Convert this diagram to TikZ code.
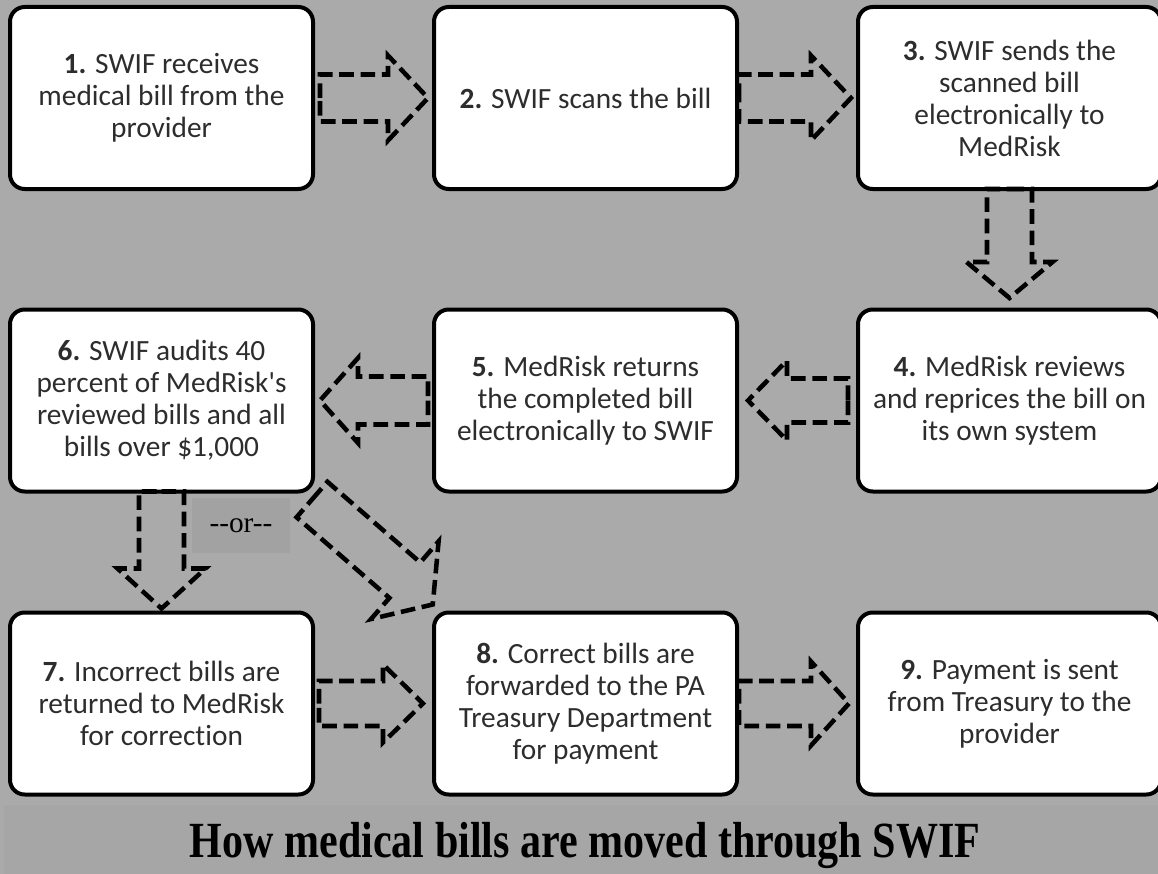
\documentclass[tikz,border=0pt]{standalone}
\usepackage{fontspec}
\setmainfont{Carlito}[Ligatures={TeXOff,CommonOff}]
\newfontfamily\titlefont{Liberation Serif}[Ligatures=TeXOff]
\usetikzlibrary{calc}
\definecolor{bggray}{RGB}{170,170,170}
\definecolor{bandgray}{RGB}{166,166,166}
\definecolor{orgray}{RGB}{162,162,162}
\definecolor{txt}{RGB}{45,45,45}
\tikzset{
  stepbox/.style={draw=black, line width=3pt, fill=white, rounded corners=11pt,
    minimum width=227.25pt, minimum height=136.5pt, outer sep=0pt, inner sep=0pt,
    align=center, text=txt, font=\fontsize{22}{24}\selectfont},
  arrowline/.style={draw=black, line width=3.4pt, dash pattern=on 11pt off 5pt, line join=miter},
  pics/barrow/.style n args={4}{code={
    \draw[arrowline] (0,0) -- (0,-#2/2) -- (#1-#4,-#2/2) -- (#1-#4,-#3/2) -- (#1,0)
      -- (#1-#4,#3/2) -- (#1-#4,#2/2) -- (0,#2/2) -- cycle;
  }},
  orbox/.style={fill=orgray, minimum width=73.5pt, minimum height=41.25pt, inner sep=0pt,
    font=\titlefont\fontsize{22}{24}\selectfont},
}
\begin{document}
\begin{tikzpicture}[x=0.75pt, y=-0.75pt]
\useasboundingbox (0,0) rectangle (1158,874);
\fill[bggray] (0,0) rectangle (1158,874);
\fill[bandgray] (4,805) rectangle (1158,874);

% boxes
\node[stepbox] (b1) at (161.5,98) {\textbf{1.} SWIF receives\\medical bill from the\\provider};
\node[stepbox] (b2) at (585.5,98) {\textbf{2.} SWIF scans the bill};
\node[stepbox] (b3) at (1009.5,98) {\textbf{3.} SWIF sends the\\scanned bill\\electronically to\\MedRisk};
\node[stepbox] (b4) at (1009.5,400.5) {\textbf{4.} MedRisk reviews\\and reprices the bill on\\its own system};
\node[stepbox] (b5) at (585.5,400.5) {\textbf{5.} MedRisk returns\\the completed bill\\electronically to SWIF};
\node[stepbox] (b6) at (161.5,400.5) {\textbf{6.} SWIF audits 40\\percent of MedRisk's\\reviewed bills and all\\bills over \$1,000};
\node[stepbox] (b7) at (161.5,703.5) {\textbf{7.} Incorrect bills are\\returned to MedRisk\\for correction};
\node[stepbox] (b8) at (585.5,703.5) {\textbf{8.} Correct bills are\\forwarded to the PA\\Treasury Department\\for payment};
\node[stepbox] (b9) at (1009.5,703.5) {\textbf{9.} Payment is sent\\from Treasury to the\\provider};

% or label
\node[orbox] (or) at (241,525.5) {--or--};

% block arrows
\pic at ($(b1.east)+(7,0)$) {barrow={108}{47}{85}{40}};
\pic at ($(b2.east)+(2,0)$) {barrow={112}{47}{85}{40}};
\pic[rotate=-90] at (b3.south) {barrow={109}{45}{86}{36}};
\pic[rotate=180] at ($(b4.west)+(-10,0)$) {barrow={100}{44}{80}{39}};
\pic[rotate=180] at ($(b5.west)+(-6,0)$) {barrow={108}{48}{85}{38}};
\pic[rotate=-90] at (b6.south) {barrow={117}{45}{88}{40}};
\pic[rotate=-41] at ($(b6.south east)+(-1,8)$) {barrow={160}{47}{103}{37}};
\pic at ($(b7.east)+(6,0)$) {barrow={104}{45}{78}{40}};
\pic at ($(b8.east)+(2,0)$) {barrow={110}{45}{84}{38}};

% title
\node[anchor=base] (title) at (585,857) {\scalebox{0.83}[1]{\titlefont\bfseries\fontsize{38}{40}\selectfont How medical bills are moved through SWIF}};
\end{tikzpicture}
\end{document}
